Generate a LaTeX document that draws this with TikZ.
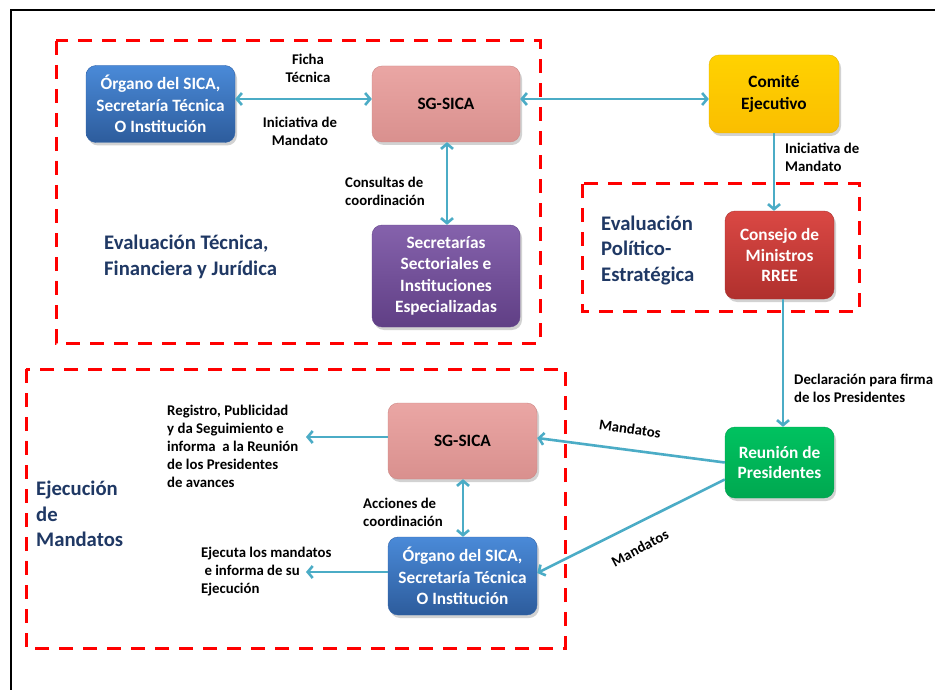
\documentclass[tikz,border=0pt]{standalone}
\usepackage{fontspec}
\setmainfont{Carlito}
\usetikzlibrary{arrows.meta,shadows,calc}
\definecolor{arr}{HTML}{4BACC6}
\definecolor{navy}{HTML}{1F3864}
\definecolor{blueT}{HTML}{4A8AD8}
\definecolor{blueB}{HTML}{2D5C9C}
\definecolor{blueD}{HTML}{3264AA}
\definecolor{pinkT}{HTML}{EAA6A4}
\definecolor{pinkB}{HTML}{D9908E}
\definecolor{pinkD}{HTML}{CD8886}
\definecolor{yelT}{HTML}{FFD200}
\definecolor{yelB}{HTML}{FABE00}
\definecolor{yelD}{HTML}{E6B400}
\definecolor{purT}{HTML}{8562AC}
\definecolor{purB}{HTML}{603F85}
\definecolor{purD}{HTML}{64468C}
\definecolor{redT}{HTML}{DA4844}
\definecolor{redB}{HTML}{B0302D}
\definecolor{redD}{HTML}{AA3230}
\definecolor{grnT}{HTML}{00C260}
\definecolor{grnB}{HTML}{00A850}
\definecolor{grnD}{HTML}{00A050}
\definecolor{zred}{HTML}{FF0000}
\tikzset{
  box/.style={rounded corners=10pt, align=center, font=\fontsize{17.3}{21.5}\selectfont\bfseries,
    drop shadow={opacity=0.35, shadow xshift=2pt, shadow yshift=-3pt}, inner sep=2pt},
  bluebox/.style={box, top color=blueT, bottom color=blueB, draw=blueD, text=white},
  pinkbox/.style={box, top color=pinkT, bottom color=pinkB, draw=pinkD, text=black},
  yellowbox/.style={box, top color=yelT, bottom color=yelB, draw=yelD, text=black},
  purplebox/.style={box, top color=purT, bottom color=purB, draw=purD, text=white},
  redbox/.style={box, top color=redT, bottom color=redB, draw=redD, text=white, font=\fontsize{17.3}{20.3}\selectfont\bfseries},
  greenbox/.style={box, top color=grnT, bottom color=grnB, draw=grnD, text=white, font=\fontsize{17.3}{20.3}\selectfont\bfseries},
  zone/.style={draw=zred, line width=3pt, dash pattern=on 14pt off 10pt},
  conn/.style={draw=arr, line width=2.6pt, -{Straight Barb[length=5pt,width=12pt]}},
  dconn/.style={draw=arr, line width=2.6pt, {Straight Barb[length=5pt,width=12pt]}-{Straight Barb[length=5pt,width=12pt]}},
  lbl/.style={font=\fontsize{14.8}{18}\selectfont\bfseries, align=left, inner sep=0pt},
  clbl/.style={lbl, align=center},
  title/.style={font=\fontsize{20.7}{25.5}\selectfont\bfseries, text=navy, align=left, inner sep=0pt, anchor=west},
}
\begin{document}
\begin{tikzpicture}[x=1pt,y=-1pt]
\useasboundingbox (0,0) rectangle (935,690);
\fill[white] (0,0) rectangle (935,690);
% frame
\draw[line width=2pt] (11,690) -- (11,10) -- (935,10);
% zones
\draw[zone] (56,41) rectangle (540,343);
\draw[zone] (582,184) rectangle (859,311);
\draw[zone] (26,369) rectangle (565,648);
% nodes
\node[bluebox, minimum width=149pt, minimum height=77pt] (org1) at (160.5,104) {Órgano del SICA,\\Secretaría Técnica\\O Institución};
\node[pinkbox, minimum width=148pt, minimum height=76pt] (sg1) at (446,104) {SG-SICA};
\node[yellowbox, minimum width=130pt, minimum height=78pt] (com) at (774,94) {Comité\\Ejecutivo};
\node[purplebox, minimum width=148pt, minimum height=102pt] (sec) at (446,276) {Secretarías\\Sectoriales e\\Instituciones\\Especializadas};
\node[redbox, minimum width=109pt, minimum height=88pt] (con) at (779.5,255) {Consejo de\\Ministros\\RREE};
\node[pinkbox, minimum width=149pt, minimum height=76pt] (sg2) at (462.5,441) {SG-SICA};
\node[bluebox, minimum width=149pt, minimum height=78pt] (org2) at (462.5,576) {Órgano del SICA,\\Secretaría Técnica\\O Institución};
\node[greenbox, minimum width=109pt, minimum height=71pt] (reu) at (779.5,462.5) {Reunión de\\Presidentes};
% titles
\node[title] (t1) at (104,257) {Evaluación Técnica,\\Financiera y Jurídica};
\node[title] (t2) at (601,250) {Evaluación\\Político-\\Estratégica};
\node[title] (t3) at (36,514) {Ejecución\\de\\Mandatos};
% free ends
\coordinate (r1) at (306,437);
\coordinate (r2) at (306,572);
% connectors
\draw[dconn] ([yshift=5pt]org1.east) -- ([yshift=5pt]sg1.west);
\draw[dconn] ([yshift=5pt]sg1.east) -- ([yshift=5pt]sg1.east -| com.west);
\draw[dconn] ([xshift=1pt]sg1.south) -- ([xshift=1pt]sec.north);
\draw[conn] (com.south) -- (com.south |- con.north);
\draw[conn] ([xshift=3.5pt]con.south) -- ([xshift=3.5pt]con.south |- reu.north);
\draw[conn] (reu.west) -- ([yshift=3pt]sg2.east);
\draw[conn] ([yshift=-17pt]reu.west) -- ([yshift=3pt]org2.east);
\draw[conn] ([yshift=4pt]sg2.west) -- (r1);
\draw[conn] ([yshift=4pt]org2.west) -- (r2);
\draw[dconn] ([xshift=0.5pt]sg2.south) -- ([xshift=0.5pt]org2.north);
% labels
\node[clbl] (l1) at (308,68) {Ficha\\Técnica};
\node[clbl] (l2) at (300,131) {Iniciativa de\\Mandato};
\node[lbl, anchor=west] (l3) at (345,191) {Consultas de\\coordinación};
\node[lbl, anchor=west] (l4) at (785,157.5) {Iniciativa de\\Mandato};
\node[lbl, anchor=west] (l5) at (794,388.5) {Declaración para firma\\de los Presidentes};
\node[lbl, rotate=-8] (l6) at (630,429) {Mandatos};
\node[lbl, rotate=28] (l7) at (640,548) {Mandatos};
\node[lbl, anchor=west] (l8) at (167,446) {Registro, Publicidad\\y da Seguimiento e\\informa \ a la Reunión\\de los Presidentes\\de avances};
\node[lbl, anchor=west] (l9) at (201,572) {Ejecuta los mandatos\\\ e informa de su\\Ejecución};
\node[lbl, anchor=west] (l10) at (363,512) {Acciones de\\coordinación};
\end{tikzpicture}
\end{document}
